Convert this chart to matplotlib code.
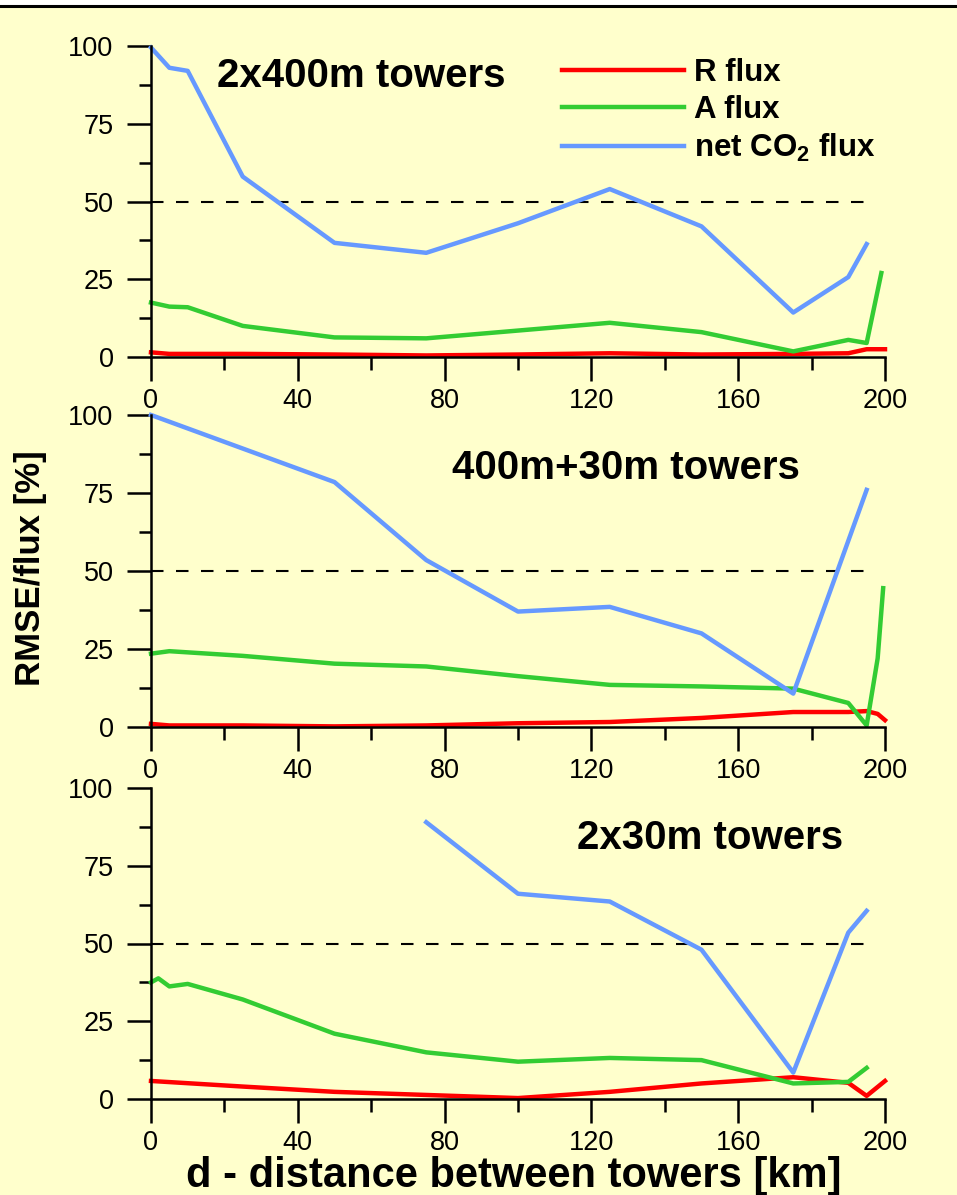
import numpy as np
import matplotlib
matplotlib.use('Agg')
from matplotlib import pyplot as plt
from matplotlib.ticker import MultipleLocator

plt.rcParams['font.family'] = ['Liberation Sans', 'DejaVu Sans']
plt.rcParams['mathtext.fontset'] = 'custom'
plt.rcParams['mathtext.rm'] = 'Liberation Sans:bold'
plt.rcParams['mathtext.bf'] = 'Liberation Sans:bold'

BG = '#FFFFCC'
RED = '#FF0000'
GREEN = '#33CC33'
BLUE = '#6699FF'

# 2x400m towers
p1_r_x = [0, 5, 10, 25, 50, 75, 100, 125, 150, 175, 190, 195, 200]
p1_r_y = [1.5, 1.0, 1.0, 1.0, 0.8, 0.5, 0.8, 1.2, 0.8, 1.0, 1.2, 2.5, 2.5]
p1_a_x = [0, 5, 10, 25, 50, 75, 100, 125, 150, 175, 190, 195, 199]
p1_a_y = [17.5, 16.2, 16.0, 10.0, 6.3, 6.0, 8.5, 11.0, 8.0, 1.8, 5.5, 4.5, 27.0]
p1_n_x = [0, 5, 10, 25, 50, 75, 100, 125, 150, 175, 190, 195]
p1_n_y = [99.5, 93.0, 92.0, 58.0, 36.7, 33.5, 43.0, 54.0, 42.0, 14.3, 25.7, 36.3]

# 400m+30m towers
p2_r_x = [0, 5, 25, 50, 75, 100, 125, 150, 175, 190, 195, 198, 200]
p2_r_y = [1.0, 0.5, 0.5, 0.2, 0.5, 1.2, 1.6, 2.9, 4.8, 4.8, 5.1, 4.2, 2.2]
p2_a_x = [0, 5, 25, 50, 75, 100, 125, 150, 175, 190, 195, 198, 199.5]
p2_a_y = [23.5, 24.3, 22.8, 20.3, 19.4, 16.3, 13.5, 13.0, 12.3, 7.7, 0.5, 22.0, 44.5]
p2_n_x = [0, 50, 75, 100, 125, 150, 175, 195]
p2_n_y = [100.0, 78.5, 53.5, 37.0, 38.5, 30.0, 10.7, 76.0]

# 2x30m towers
p3_r_x = [0, 25, 50, 75, 100, 125, 150, 175, 190, 195, 200]
p3_r_y = [5.8, 4.0, 2.3, 1.3, 0.3, 2.3, 5.0, 7.0, 5.2, 1.0, 5.8]
p3_a_x = [0, 2, 5, 10, 25, 50, 75, 100, 125, 150, 175, 190, 195]
p3_a_y = [37.5, 38.8, 36.2, 37.0, 32.0, 21.0, 15.0, 12.0, 13.2, 12.5, 5.0, 5.5, 10.0]
p3_n_x = [75, 100, 125, 150, 175, 190, 195]
p3_n_y = [89.0, 66.0, 63.5, 48.0, 8.5, 53.5, 60.5]

titles = ['2x400m towers', '400m+30m towers', '2x30m towers']
title_pos = [(18, 90.5), (82, 83), (116, 84)]
panels = [
    (p1_r_x, p1_r_y, p1_a_x, p1_a_y, p1_n_x, p1_n_y),
    (p2_r_x, p2_r_y, p2_a_x, p2_a_y, p2_n_x, p2_n_y),
    (p3_r_x, p3_r_y, p3_a_x, p3_a_y, p3_n_x, p3_n_y),
]

W, H = 957, 1195
fig = plt.figure(figsize=(W / 100, H / 100), dpi=100, facecolor=BG)

# white strip and black rule along the top edge
fig.patches.append(plt.Rectangle((0, 1 - 5 / H), 1, 5 / H, transform=fig.transFigure,
                                 facecolor='white', edgecolor='none'))
fig.lines.append(plt.Line2D([0, 1], [1 - 6 / H, 1 - 6 / H], transform=fig.transFigure,
                            color='black', lw=2.2))

# (y pixel of value 100, y pixel of value 0) for each panel
rows = [(46, 357), (415, 727), (788, 1099)]
x0, x1 = 151, 885

axes = []
for i, (top, bot) in enumerate(rows):
    ax = fig.add_axes([x0 / W, 1 - bot / H, (x1 - x0) / W, (bot - top) / H])
    ax.set_facecolor('none')
    rx, ry, ax_, ay, nx, ny = panels[i]
    ax.plot([0, 197], [50, 50], color='black', lw=1.5, dashes=(6, 6), clip_on=False)
    lr, = ax.plot(rx, ry, color=RED, lw=3.2, clip_on=False, label='R flux')
    la, = ax.plot(ax_, ay, color=GREEN, lw=3.2, clip_on=False, label='A flux')
    ln, = ax.plot(nx, ny, color=BLUE, lw=3.2, clip_on=False, label='net CO$_2$ flux')
    ax.set_xlim(0, 200)
    ax.set_ylim(0, 100)
    for s in ['top', 'right']:
        ax.spines[s].set_visible(False)
    for s in ['left', 'bottom']:
        ax.spines[s].set_linewidth(1.8)
    ax.xaxis.set_major_locator(MultipleLocator(40))
    ax.xaxis.set_minor_locator(MultipleLocator(20))
    ax.yaxis.set_major_locator(MultipleLocator(25))
    ax.yaxis.set_minor_locator(MultipleLocator(12.5))
    ax.tick_params(which='major', direction='out', length=17, width=1.8,
                   labelsize=19.5, pad=5)
    ax.tick_params(which='minor', direction='out', length=9, width=1.8)
    ax.tick_params(axis='y', which='major', pad=10)
    tx, ty = title_pos[i]
    ax.text(tx, ty, titles[i], fontsize=29, fontweight='bold', ha='left', va='center')
    axes.append(ax)
    if i == 0:
        leg = ax.legend(handles=[lr, la, ln], loc='upper left', frameon=False,
                        bbox_to_anchor=(562 / W, 1 - 58 / H), bbox_transform=fig.transFigure,
                        borderpad=0, borderaxespad=0, handlelength=3.9, handletextpad=0.32,
                        labelspacing=0.22, prop={'size': 22.5, 'weight': 'bold'})

fig.text(31 / W, 1 - 568 / H, 'RMSE/flux [%]', rotation=90, fontsize=25,
         fontweight='bold', ha='center', va='center')
fig.text(514 / W, 1 - 1176 / H, 'd - distance between towers [km]', fontsize=30,
         fontweight='bold', ha='center', va='center')

fig.savefig('out.png', dpi=100, facecolor=BG)
